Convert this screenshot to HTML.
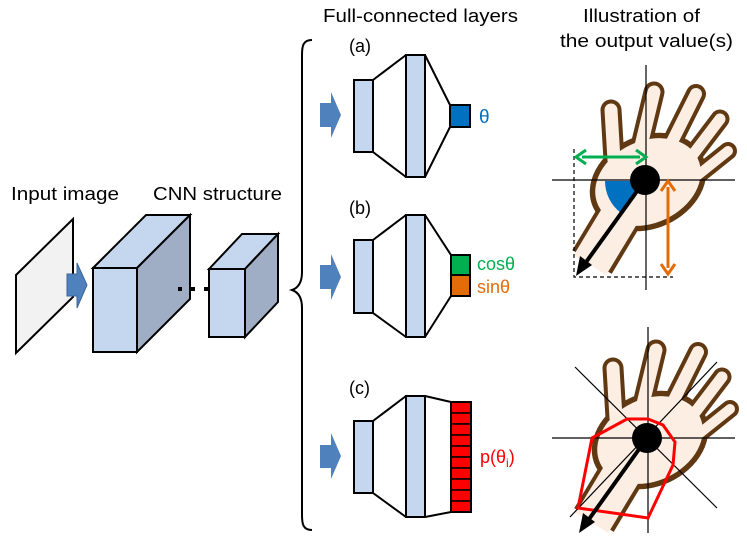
<!DOCTYPE html>
<html><head><meta charset="utf-8"><style>
html,body{margin:0;padding:0;background:#fff}
svg{display:block;font-family:"Liberation Sans",sans-serif}
</style></head><body>
<svg width="747" height="541" viewBox="0 0 747 541" xmlns="http://www.w3.org/2000/svg">
<defs>
<g id="hand" stroke-linecap="round">
<g stroke="#603913" fill="#603913">
<line x1="614" y1="160" x2="611" y2="110" stroke-width="21"/>
<line x1="640" y1="150" x2="654" y2="92" stroke-width="21"/>
<line x1="668" y1="150" x2="696" y2="94" stroke-width="20"/>
<line x1="685" y1="165" x2="720" y2="119" stroke-width="19"/>
<line x1="698" y1="175" x2="728" y2="151" stroke-width="18"/>
<line x1="622" y1="212" x2="592" y2="262" stroke-width="46" stroke-linecap="butt"/>
<ellipse cx="648" cy="182" rx="60" ry="46" transform="rotate(-25 648 182)"/>
</g>
<g stroke="#fdeee4" fill="#fdeee4">
<line x1="614" y1="160" x2="611" y2="110" stroke-width="13"/>
<line x1="640" y1="150" x2="654" y2="92" stroke-width="13"/>
<line x1="668" y1="150" x2="696" y2="94" stroke-width="12"/>
<line x1="685" y1="165" x2="720" y2="119" stroke-width="11"/>
<line x1="698" y1="175" x2="728" y2="151" stroke-width="10"/>
<line x1="622" y1="212" x2="590" y2="265" stroke-width="38" stroke-linecap="butt"/>
<ellipse cx="648" cy="182" rx="55" ry="41" transform="rotate(-25 648 182)" stroke="none"/>
</g>
</g>
</defs>

<!-- headers -->
<text x="323" y="22" font-size="18" textLength="195" lengthAdjust="spacingAndGlyphs">Full-connected layers</text>
<text x="583" y="22" font-size="18" textLength="117" lengthAdjust="spacingAndGlyphs">Illustration of</text>
<text x="560" y="47" font-size="18" textLength="173" lengthAdjust="spacingAndGlyphs">the output value(s)</text>
<text x="11" y="200" font-size="18" textLength="108" lengthAdjust="spacingAndGlyphs">Input image</text>
<text x="153" y="200" font-size="18" textLength="129" lengthAdjust="spacingAndGlyphs">CNN structure</text>

<!-- input image -->
<polygon points="16,275 73,219 73,297 16,353" fill="#f2f2f2" stroke="#000" stroke-width="2"/>
<polygon points="67,274 77,274 77,263 87,285 77,308 77,296 67,296" fill="#4f81bd" stroke="#3a6696" stroke-width="1"/>

<!-- big cube -->
<polygon points="93,268 146,215 190,215 137,268" fill="#c5d7ef" stroke="#000" stroke-width="2"/>
<polygon points="137,268 190,215 190,299 137,352" fill="#a0aec5" stroke="#000" stroke-width="2"/>
<rect x="93" y="268" width="44" height="84" fill="#c5d7ef" stroke="#000" stroke-width="2"/>
<rect x="178" y="287" width="4" height="4" fill="#000"/>
<rect x="190" y="287" width="5" height="4" fill="#000"/>
<rect x="204" y="287" width="5" height="4" fill="#000"/>
<!-- small cube -->
<polygon points="209,269 242,234 278,234 245,269" fill="#c5d7ef" stroke="#000" stroke-width="2"/>
<polygon points="245,269 278,234 278,302 245,337" fill="#a0aec5" stroke="#000" stroke-width="2"/>
<rect x="209" y="269" width="36" height="68" fill="#c5d7ef" stroke="#000" stroke-width="2"/>

<!-- brace -->
<path d="M312,40 C303,40 302,46 302,55 L302,272 C302,283 298,288 292,290 C298,292 302,297 302,308 L302,515 C302,524 303,530 312,530" fill="none" stroke="#000" stroke-width="2"/>

<!-- (a) -->
<text x="349" y="52" font-size="18">(a)</text>
<polygon points="320,103 331,103 331,92 341,115 331,138 331,127 320,127" fill="#4f81bd"/>
<path d="M373,80 L406,55 M373,152 L406,177 M425,55 L450,105 M425,177 L450,127" stroke="#000" stroke-width="2" fill="none"/>
<rect x="354" y="80" width="19" height="72" fill="#c5d7ef" stroke="#000" stroke-width="2"/>
<rect x="406" y="55" width="19" height="122" fill="#c5d7ef" stroke="#000" stroke-width="2"/>
<rect x="450" y="105" width="20" height="22" fill="#0070c0" stroke="#000" stroke-width="2"/>
<text x="479" y="123" font-size="19" fill="#0070c0">θ</text>

<!-- (b) -->
<text x="349" y="214" font-size="18">(b)</text>
<polygon points="320,265 331,265 331,254 341,277 331,300 331,289 320,289" fill="#4f81bd"/>
<path d="M373,240 L406,215 M373,313 L406,337 M425,215 L451,255 M425,337 L451,296" stroke="#000" stroke-width="2" fill="none"/>
<rect x="354" y="240" width="19" height="73" fill="#c5d7ef" stroke="#000" stroke-width="2"/>
<rect x="406" y="215" width="19" height="122" fill="#c5d7ef" stroke="#000" stroke-width="2"/>
<rect x="451" y="255" width="19" height="20" fill="#00b050" stroke="#000" stroke-width="2"/>
<rect x="451" y="275" width="19" height="21" fill="#e36c09" stroke="#000" stroke-width="2"/>
<text x="477" y="270" font-size="18" fill="#00b050">cosθ</text>
<text x="477" y="293" font-size="18" fill="#e36c09">sinθ</text>

<!-- (c) -->
<text x="349" y="394" font-size="18">(c)</text>
<polygon points="320,445 331,445 331,433 341,456 331,479 331,468 320,468" fill="#4f81bd"/>
<path d="M373,421 L406,396 M373,493 L406,517 M425,396 L451,402 M425,517 L451,512" stroke="#000" stroke-width="2" fill="none"/>
<rect x="354" y="421" width="19" height="72" fill="#c5d7ef" stroke="#000" stroke-width="2"/>
<rect x="406" y="396" width="19" height="121" fill="#c5d7ef" stroke="#000" stroke-width="2"/>
<g fill="#ff0000" stroke="#000" stroke-width="1.5">
<rect x="451" y="402" width="20" height="11"/><rect x="451" y="413" width="20" height="11"/>
<rect x="451" y="424" width="20" height="11"/><rect x="451" y="435" width="20" height="11"/>
<rect x="451" y="446" width="20" height="11"/><rect x="451" y="457" width="20" height="11"/>
<rect x="451" y="468" width="20" height="11"/><rect x="451" y="479" width="20" height="11"/>
<rect x="451" y="490" width="20" height="11"/><rect x="451" y="501" width="20" height="11"/>
</g>
<rect x="451" y="402" width="20" height="110" fill="none" stroke="#000" stroke-width="2"/>
<text x="480" y="463" font-size="18" fill="#ff0000">p(θ<tspan font-size="12" dy="4">i</tspan><tspan dy="-4">)</tspan></text>

<!-- top illustration -->
<use href="#hand"/>
<line x1="552" y1="180" x2="735" y2="180" stroke="#000" stroke-width="1.2"/>
<line x1="646" y1="65" x2="646" y2="290" stroke="#000" stroke-width="1.2"/>
<path d="M645,181 L605,181 A40,40 0 0 0 621,213 Z" fill="#0070c0"/>
<path d="M574,149 L574,277 L673,277" fill="none" stroke="#000" stroke-width="1.2" stroke-dasharray="4,3"/>
<line x1="582" y1="157" x2="640" y2="157" stroke="#00b050" stroke-width="3"/>
<path d="M586,150 L576,157 L586,164 M636,150 L646,157 L636,164" fill="none" stroke="#00b050" stroke-width="3"/>
<line x1="668" y1="187" x2="668" y2="268" stroke="#e36c09" stroke-width="3"/>
<path d="M661,191 L668,181 L675,191 M661,264 L668,274 L675,264" fill="none" stroke="#e36c09" stroke-width="3"/>
<circle cx="645" cy="180" r="15" fill="#000"/>
<line x1="645" y1="180" x2="584" y2="265" stroke="#000" stroke-width="4"/>
<polygon points="576,276 580,256 592,265" fill="#000"/>

<!-- bottom illustration -->
<use href="#hand" transform="translate(2,258)"/>
<line x1="552" y1="438" x2="735" y2="438" stroke="#000" stroke-width="1.2"/>
<line x1="648" y1="327" x2="648" y2="533" stroke="#000" stroke-width="1.2"/>
<line x1="575" y1="367" x2="717" y2="508" stroke="#000" stroke-width="1.2"/>
<line x1="717" y1="362" x2="570" y2="517" stroke="#000" stroke-width="1.2"/>
<polygon points="592,438 627,419 648,419 663,425 675,442 673,465 648,518 578,508" fill="none" stroke="#ff0000" stroke-width="3"/>
<circle cx="647" cy="438" r="15" fill="#000"/>
<line x1="647" y1="438" x2="587" y2="522" stroke="#000" stroke-width="4"/>
<polygon points="579,533 583,513 595,522" fill="#000"/>
</svg>
</body></html>
